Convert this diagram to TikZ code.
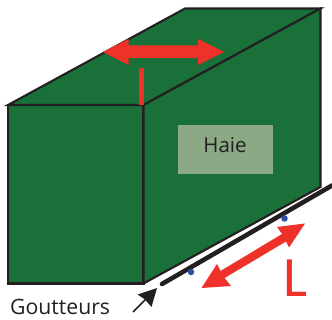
\documentclass[tikz,border=0pt]{standalone}
\usepackage{fontspec}
\setmainfont{Open Sans}
\definecolor{hedge}{HTML}{1A7039}
\definecolor{edgeink}{HTML}{231F20}
\definecolor{redmark}{HTML}{EE3129}
\definecolor{bluedot}{HTML}{2E4FA0}
\definecolor{labelbg}{HTML}{8BA985}
\tikzset{
  face/.style={fill=hedge,draw=edgeink,line width=2.1pt,line join=miter},
  redshape/.style={fill=redmark,draw=none},
  dot/.style={circle,fill=bluedot,draw=none,minimum size=6.5pt,inner sep=0pt},
  txt/.style={text=edgeink,inner sep=0pt}
}
\begin{document}
\begin{tikzpicture}[x=1pt,y=-1pt]
\useasboundingbox (0,0) rectangle (332,320);
\coordinate (ftl) at (8,105);
\coordinate (ftr) at (143.5,105);
\coordinate (fbl) at (8,283.5);
\coordinate (fbr) at (143.5,283.5);
\coordinate (btl) at (185,8.5);
\coordinate (btr) at (320.5,8.5);
\coordinate (bbr) at (320.5,187);
\draw[face] (ftl) -- (ftr) -- (fbr) -- (fbl) -- cycle;
\draw[face] (ftl) -- (btl) -- (btr) -- (ftr) -- cycle;
\draw[face] (ftr) -- (btr) -- (bbr) -- (fbr) -- cycle;
% top double arrow
\fill[redshape] (103,52) -- (128.5,39) -- (128.5,45.5) -- (198,45.5) -- (198,39) -- (224,52) -- (198,65) -- (198,58) -- (128.5,58) -- (128.5,65) -- cycle;
\fill[redshape] (139.2,68) rectangle (143.8,105);
% label
\node[fill=labelbg,minimum width=95pt,minimum height=49pt,inner sep=0pt] (haiebox) at (225.5,149.5) {};
\node[txt,font=\fontsize{20.5}{22}\selectfont] (haie) at (225,145.5) {Haie};
% pipe
\coordinate (p1) at (162,284);
\coordinate (p2) at (332,185.5);
\draw[edgeink,line width=4.6pt,line cap=round] (p1) -- (p2);
\node[dot] (d1) at (191,272) {};
\node[dot] (d2) at (284.5,218.5) {};
% L arrow
\fill[redshape] (305,223.5) -- (289,247.5) -- (286,241.5) -- (224.5,278) -- (231,286) -- (201.5,288) -- (217,264) -- (220.5,271) -- (282,234) -- (277,227) -- cycle;
\node[text=redmark,inner sep=0pt,font=\fontsize{57}{60}\selectfont\fontspec{Carlito}] (ell) at (295.5,278.5) {L};
% Goutteurs
\node[txt,font=\fontsize{21.2}{23}\selectfont,anchor=west] (gout) at (10,307) {Goutteurs};
\coordinate (a1) at (133,312);
\coordinate (a2) at (157,288);
\draw[edgeink,line width=1.6pt] (a1) -- (147,298);
\fill[edgeink] (a2) -- (151.5,307) -- (145,299.5) -- (137.5,294.5) -- cycle;
\end{tikzpicture}
\end{document}
